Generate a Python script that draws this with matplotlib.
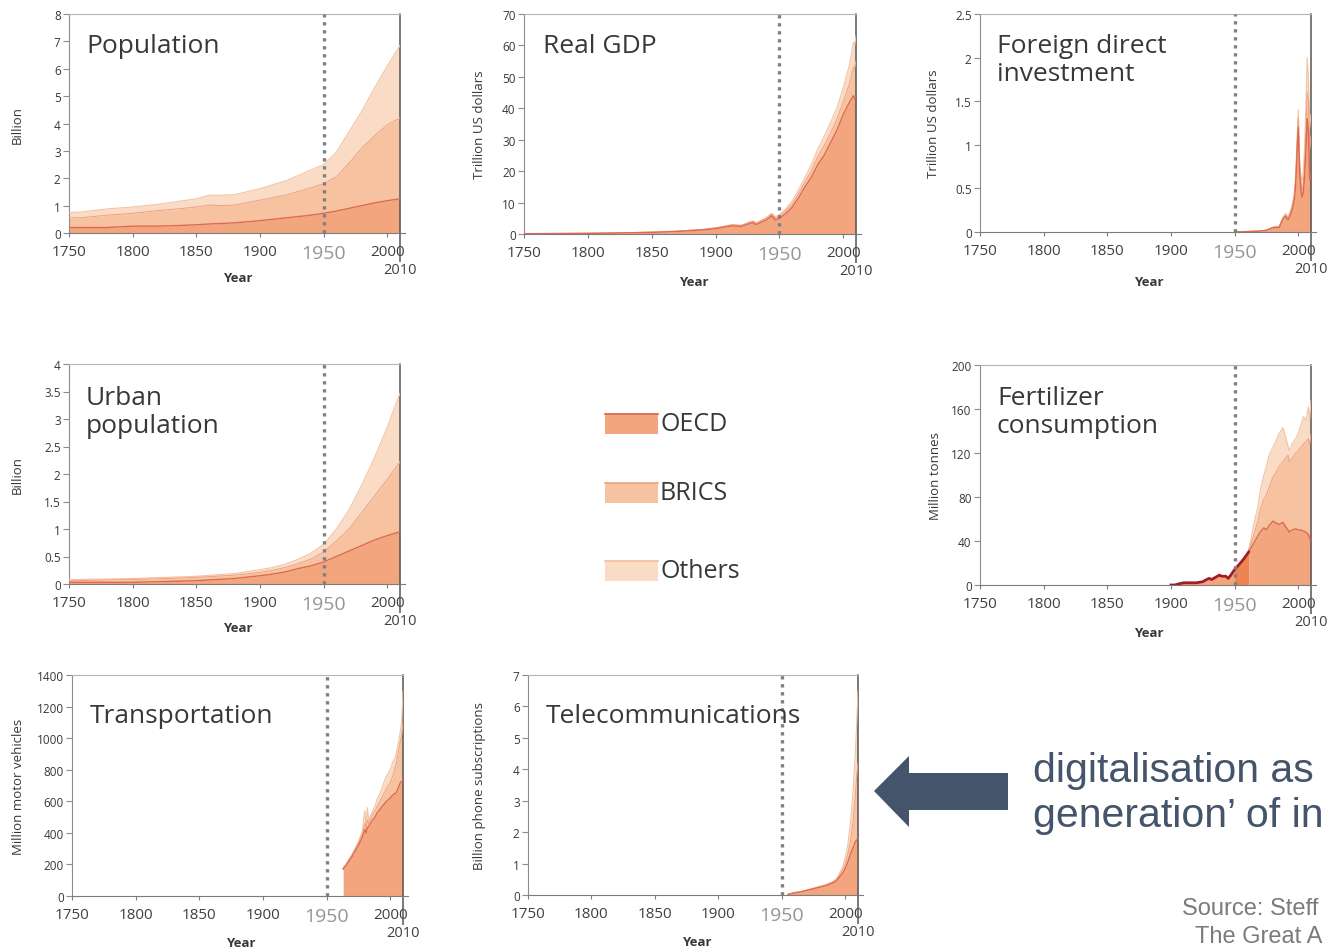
import matplotlib
matplotlib.use("Agg")
import matplotlib.pyplot as plt
from matplotlib.patches import Rectangle, Polygon
import numpy as np

plt.rcParams['font.family'] = ['Open Sans', 'DejaVu Sans']

# === Data ===
decade_ticks = [1750, 1800, 1850, 1900, 1950, 2000]
decade_labels = ["1750", "1800", "1850", "1900", "1950", "2000"]

# Population (billion) - upper edges of the stacked layers
pop_years = [1750, 1760, 1780, 1800, 1820, 1840, 1850, 1860, 1870, 1880, 1900, 1920, 1940, 1950, 1960, 1970, 1980, 1990, 2000, 2010]
pop_oecd = [0.20, 0.20, 0.20, 0.25, 0.25, 0.28, 0.30, 0.33, 0.35, 0.37, 0.45, 0.55, 0.65, 0.72, 0.80, 0.90, 1.00, 1.10, 1.18, 1.25]
pop_oecd_brics = [0.55, 0.56, 0.65, 0.72, 0.82, 0.90, 0.95, 1.02, 1.00, 1.02, 1.20, 1.38, 1.65, 1.80, 2.05, 2.55, 3.10, 3.55, 3.95, 4.20]
pop_all = [0.75, 0.77, 0.88, 0.95, 1.05, 1.18, 1.25, 1.38, 1.38, 1.40, 1.62, 1.90, 2.30, 2.50, 2.95, 3.70, 4.45, 5.30, 6.10, 6.85]

# Real GDP (trillion US dollars)
gdp_years = [1750, 1800, 1820, 1850, 1870, 1890, 1900, 1913, 1920, 1929, 1932, 1940, 1944, 1947, 1950, 1955, 1960, 1965, 1970, 1975, 1980, 1985, 1990, 1995, 2000, 2005, 2008, 2009, 2010]
gdp_oecd = [0.1, 0.2, 0.3, 0.5, 0.8, 1.3, 1.7, 2.6, 2.4, 3.6, 3.0, 4.5, 5.8, 4.5, 5.0, 6.5, 8.5, 11.5, 15.0, 18.0, 22.0, 25.0, 29.0, 33.0, 38.0, 42.0, 44.0, 43.0, 43.5]
gdp_oecd_brics = [0.1, 0.2, 0.3, 0.6, 0.9, 1.4, 1.9, 2.9, 2.7, 4.0, 3.4, 5.0, 6.3, 5.0, 5.6, 7.4, 9.5, 12.8, 16.5, 20.0, 24.5, 28.0, 32.0, 36.5, 42.0, 48.0, 53.0, 53.0, 55.0]
gdp_all = [0.1, 0.2, 0.3, 0.6, 0.9, 1.5, 2.0, 3.0, 2.8, 4.2, 3.6, 5.3, 6.6, 5.4, 6.2, 8.0, 10.5, 14.0, 18.0, 22.0, 27.0, 31.0, 35.5, 40.0, 46.5, 54.0, 61.0, 60.0, 63.0]

# Foreign direct investment (trillion US dollars)
fdi_years = [1950, 1960, 1970, 1975, 1980, 1982, 1985, 1988, 1990, 1992, 1994, 1995, 1996, 1997, 1998, 1999, 2000, 2001, 2002, 2003, 2004, 2005, 2006, 2007, 2008, 2009, 2010]
fdi_oecd = [0, 0.005, 0.01, 0.02, 0.05, 0.05, 0.05, 0.15, 0.18, 0.14, 0.2, 0.25, 0.3, 0.38, 0.55, 0.9, 1.2, 0.7, 0.5, 0.4, 0.45, 0.65, 0.95, 1.3, 1.15, 0.6, 0.65]
fdi_oecd_brics = [0, 0.005, 0.01, 0.02, 0.05, 0.06, 0.06, 0.16, 0.2, 0.16, 0.23, 0.28, 0.34, 0.42, 0.6, 0.97, 1.3, 0.78, 0.58, 0.48, 0.55, 0.78, 1.15, 1.6, 1.5, 0.95, 1.1]
fdi_all = [0, 0.005, 0.01, 0.02, 0.055, 0.065, 0.065, 0.17, 0.21, 0.17, 0.25, 0.3, 0.37, 0.46, 0.68, 1.05, 1.4, 0.85, 0.65, 0.58, 0.7, 0.98, 1.45, 2.0, 1.75, 1.2, 1.35]

# Urban population (billion)
urb_years = [1750, 1800, 1850, 1880, 1900, 1910, 1920, 1930, 1940, 1950, 1960, 1970, 1980, 1990, 2000, 2010]
urb_oecd = [0.03, 0.03, 0.06, 0.10, 0.15, 0.18, 0.22, 0.28, 0.33, 0.40, 0.50, 0.60, 0.70, 0.80, 0.88, 0.95]
urb_oecd_brics = [0.06, 0.08, 0.12, 0.16, 0.21, 0.25, 0.30, 0.37, 0.45, 0.58, 0.78, 1.00, 1.30, 1.60, 1.90, 2.22]
urb_all = [0.08, 0.10, 0.14, 0.19, 0.26, 0.30, 0.36, 0.45, 0.56, 0.72, 1.00, 1.35, 1.80, 2.30, 2.85, 3.47]

# Fertilizer consumption (million tonnes): world line before 1961, regions after
fert_world_years = [1900, 1903, 1906, 1910, 1915, 1920, 1925, 1928, 1930, 1932, 1935, 1938, 1940, 1943, 1945, 1947, 1950, 1953, 1956, 1958, 1961]
fert_world = [0, 0, 1, 2, 2, 2, 3, 5, 6, 5, 7, 9, 8, 8, 6, 9, 14, 18, 22, 25, 30]
fert_years = [1961, 1963, 1965, 1968, 1970, 1973, 1975, 1977, 1980, 1983, 1985, 1988, 1990, 1992, 1993, 1995, 1998, 2000, 2002, 2004, 2006, 2008, 2009, 2010]
fert_oecd = [30, 34, 38, 44, 48, 52, 50, 54, 58, 56, 55, 57, 53, 50, 48, 50, 51, 50, 50, 49, 48, 46, 42, 40]
fert_oecd_brics = [31, 38, 45, 57, 68, 78, 82, 88, 98, 103, 108, 112, 115, 118, 112, 115, 120, 122, 125, 128, 130, 133, 128, 137]
fert_all = [32, 42, 55, 70, 85, 100, 108, 118, 125, 132, 138, 143, 135, 126, 122, 128, 133, 138, 145, 153, 150, 162, 150, 168]

# Transportation (million motor vehicles)
tr_years = [1963, 1965, 1970, 1975, 1978, 1980, 1981, 1982, 1983, 1985, 1988, 1990, 1992, 1995, 1997, 2000, 2002, 2004, 2005, 2006, 2008, 2009, 2010]
tr_oecd = [170, 190, 250, 320, 370, 420, 400, 430, 440, 470, 500, 530, 550, 580, 600, 620, 640, 650, 660, 680, 720, 725, 730]
tr_oecd_brics = [172, 195, 258, 335, 390, 460, 420, 480, 460, 500, 540, 570, 600, 650, 680, 720, 760, 820, 850, 900, 980, 1020, 1100]
tr_all = [180, 200, 265, 345, 410, 540, 440, 560, 480, 520, 570, 620, 650, 720, 760, 800, 850, 880, 920, 950, 1050, 1100, 1300]

# Telecommunications (billion phone subscriptions)
tel_years = [1955, 1960, 1965, 1970, 1975, 1980, 1985, 1990, 1993, 1995, 1998, 2000, 2002, 2004, 2006, 2008, 2009, 2010]
tel_oecd = [0.02, 0.07, 0.10, 0.15, 0.20, 0.25, 0.30, 0.38, 0.45, 0.55, 0.70, 0.85, 1.05, 1.30, 1.50, 1.70, 1.75, 1.80]
tel_oecd_brics = [0.02, 0.07, 0.10, 0.15, 0.20, 0.26, 0.31, 0.40, 0.48, 0.60, 0.80, 1.00, 1.30, 1.70, 2.30, 3.20, 3.80, 4.20]
tel_all = [0.03, 0.08, 0.11, 0.17, 0.22, 0.28, 0.34, 0.43, 0.52, 0.65, 0.90, 1.20, 1.60, 2.30, 3.20, 4.60, 5.50, 6.50]

legend_labels = ["OECD", "BRICS", "Others"]

# === Colours ===
C_OECD, C_BRICS, C_OTHERS = "#F3A57D", "#F7C29F", "#FADCC6"
L_OECD, L_BRICS, L_OTHERS = "#DC6A50", "#EFA483", "#F3C3A2"
TXT = "#383838"

W, H = 1328, 953
fig = plt.figure(figsize=(W / 100, H / 100), dpi=100)


def px_axes(l, t, r, b):
    return fig.add_axes([l / W, 1 - b / H, (r - l) / W, (b - t) / H])


def draw_panel(box, ymax, yticks, ytick_labels, ylabel, ylabel_px, year_top):
    l, t, r, b = box
    ax = px_axes(l, t, r, b)
    ax.set_xlim(1750, 2010)
    ax.set_ylim(0, ymax)
    ax.set_yticks(yticks)
    ax.set_yticklabels(ytick_labels)
    ax.set_xticks(decade_ticks)
    ax.set_xticklabels(decade_labels)
    ax.set_xticks([2010], minor=True)
    ax.set_xticklabels(["2010"], minor=True)

    ax.spines["left"].set_color("#8c8c8c")
    ax.spines["top"].set_color("#b4b4b4")
    ax.spines["right"].set_color("#555555")
    ax.spines["right"].set_linewidth(1.1)
    ax.spines["bottom"].set_color("#7c7c7c")
    ax.plot([2010, 2014], [0, 0], color="#7c7c7c", lw=0.8, clip_on=False)

    ax.tick_params(axis="y", direction="out", length=4, width=0.8, color="#8c8c8c",
                   labelsize=8.5, labelcolor=TXT, pad=2)
    ax.tick_params(axis="x", which="major", direction="out", length=3, width=0.8,
                   color="#7c7c7c", labelsize=11, labelcolor="#404040", pad=5)
    ax.tick_params(axis="x", which="minor", direction="out", length=21, width=1.1,
                   color="#555555", labelsize=10.5, labelcolor="#404040", pad=0)
    lbl = ax.get_xticklabels()[4]
    lbl.set_fontsize(14)
    lbl.set_color("#959595")

    ax.set_ylabel(ylabel, fontsize=9.5, color=TXT)
    ax.yaxis.set_label_coords((ylabel_px - l) / (r - l), 0.5)
    ax.set_xlabel("Year", fontsize=9.5, fontweight="bold", color=TXT)
    ax.xaxis.set_label_coords(0.51, (b - year_top) / (b - t))

    ax.axvline(1950, color="#808080", lw=2.4, ls=(0, (1, 1.4)), zorder=4)
    return ax


def draw_stack(ax, years, oecd, oecd_brics, total):
    ax.fill_between(years, 0, oecd, color=C_OECD, lw=0, zorder=2)
    ax.fill_between(years, oecd, oecd_brics, color=C_BRICS, lw=0, zorder=2)
    ax.fill_between(years, oecd_brics, total, color=C_OTHERS, lw=0, zorder=2)
    ax.plot(years, total, color=L_OTHERS, lw=0.8, zorder=3)
    ax.plot(years, oecd_brics, color=L_BRICS, lw=0.8, zorder=3)
    ax.plot(years, oecd, color=L_OECD, lw=1.0, zorder=3)


# === Panels ===
ax1 = draw_panel((69, 15, 400, 234), 8, range(0, 9), [str(v) for v in range(0, 9)],
                 "Billion", 24, 272)
draw_stack(ax1, pop_years, pop_oecd, pop_oecd_brics, pop_all)

ax2 = draw_panel((524, 15, 856, 235), 70, range(0, 71, 10), [str(v) for v in range(0, 71, 10)],
                 "Trillion US dollars", 486, 276)
draw_stack(ax2, gdp_years, gdp_oecd, gdp_oecd_brics, gdp_all)

ax3 = draw_panel((980, 15, 1311, 233), 2.5, [0, 0.5, 1, 1.5, 2, 2.5], ["0", "0.5", "1", "1.5", "2", "2.5"],
                 "Trillion US dollars", 940, 276)
draw_stack(ax3, fdi_years, fdi_oecd, fdi_oecd_brics, fdi_all)

ax4 = draw_panel((69, 365, 400, 585), 4, [0, 0.5, 1, 1.5, 2, 2.5, 3, 3.5, 4],
                 ["0", "0.5", "1", "1.5", "2", "2.5", "3", "3.5", "4"], "Billion", 24, 622)
draw_stack(ax4, urb_years, urb_oecd, urb_oecd_brics, urb_all)

ax5 = draw_panel((980, 366, 1311, 586), 200, range(0, 201, 40), [str(v) for v in range(0, 201, 40)],
                 "Million tonnes", 942, 627)
fw = np.array(fert_world_years)
ax5.fill_between(fert_world_years, 0, fert_world, color=C_OECD, lw=0, zorder=2)
ax5.fill_between(fert_world_years, 0, fert_world, where=fw >= 1950, color="#EE8452", lw=0, zorder=2)
draw_stack(ax5, fert_years, fert_oecd, fert_oecd_brics, fert_all)
ax5.plot(fert_world_years, fert_world, color="#A01E24", lw=2.0, zorder=3)

ax6 = draw_panel((72, 676, 403, 897), 1400, range(0, 1401, 200), [str(v) for v in range(0, 1401, 200)],
                 "Million motor vehicles", 25, 937)
draw_stack(ax6, tr_years, tr_oecd, tr_oecd_brics, tr_all)

ax7 = draw_panel((528, 676, 858, 896), 7, range(0, 8), [str(v) for v in range(0, 8)],
                 "Billion phone subscriptions", 486, 936)
draw_stack(ax7, tel_years, tel_oecd, tel_oecd_brics, tel_all)

# === Overlay for titles, legend, arrow and notes (pixel coordinates) ===
ov = fig.add_axes([0, 0, 1, 1], zorder=10)
ov.set_xlim(0, W)
ov.set_ylim(H, 0)
ov.axis("off")
ov.patch.set_alpha(0)

titles = [
    ("Population", 86, 53),
    ("Real GDP", 543, 53),
    ("Foreign direct", 997, 53),
    ("investment", 997, 81),
    ("Urban", 86, 405),
    ("population", 86, 433),
    ("Fertilizer", 997, 405),
    ("consumption", 997, 433),
    ("Transportation", 90, 723),
    ("Telecommunications", 546, 723),
]
for txt, x, y in titles:
    ov.text(x, y, txt, fontsize=19, color=TXT, va="baseline", ha="left")

# legend
leg_rows = [425, 494, 572]
leg_fill = [C_OECD, C_BRICS, C_OTHERS]
leg_line = ["#D9604A", "#EFA07E", "#F3BE9C"]
for lab, yc, fc, lc in zip(legend_labels, leg_rows, leg_fill, leg_line):
    ov.add_patch(Rectangle((605, yc - 10), 53, 20, facecolor=fc, edgecolor="none"))
    ov.plot([605, 658], [yc - 10, yc - 10], color=lc, lw=1.2)
    ov.text(660, yc, lab, fontsize=18, color=TXT, va="center", ha="left")

# arrow
ov.add_patch(Polygon([(874, 792), (909, 757), (909, 774), (1008, 774), (1008, 811),
                      (909, 811), (909, 828)], closed=True, facecolor="#44546A", edgecolor="none"))

ov.text(1033, 782, "digitalisation as", fontsize=29.5, color="#44546A",
        family="Liberation Sans", va="baseline", ha="left")
ov.text(1033, 827, "generation\u2019 of in", fontsize=29.5, color="#44546A",
        family="Liberation Sans", va="baseline", ha="left")

ov.text(1182, 915, "Source: Steff", fontsize=17, color="#7b7b7b",
        family="Liberation Sans", va="baseline", ha="left")
ov.text(1195, 943, "The Great A", fontsize=17, color="#7b7b7b",
        family="Liberation Sans", va="baseline", ha="left")

fig.savefig("out.png", dpi=100)
